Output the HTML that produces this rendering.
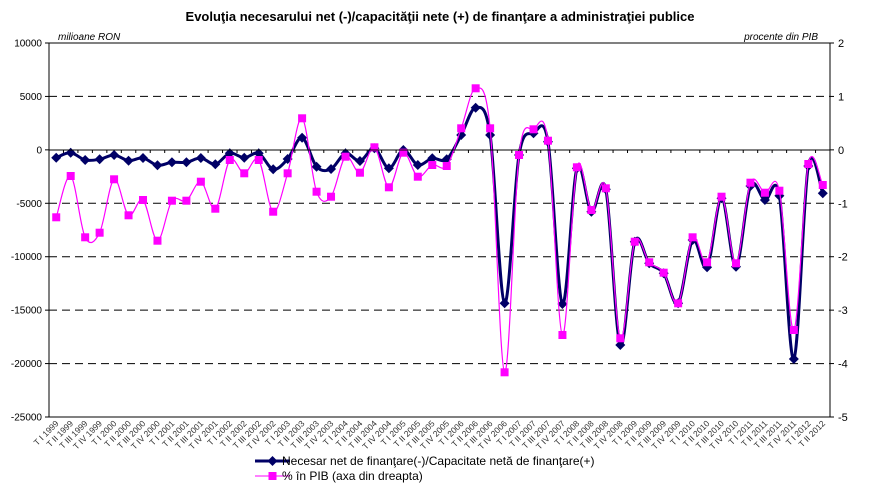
<!DOCTYPE html>
<html><head><meta charset="utf-8"><style>
html,body{margin:0;padding:0;background:#fff;width:881px;height:483px;overflow:hidden}
svg{display:block;font-family:"Liberation Sans",Arial,sans-serif}
</style></head><body>
<svg id="s" width="881" height="483" viewBox="0 0 881 483" xmlns="http://www.w3.org/2000/svg">
<text x="440" y="21" text-anchor="middle" font-size="13" font-weight="bold">Evoluţia necesarului net (-)/capacităţii nete (+) de finanţare a administraţiei publice</text>
<text x="58" y="40" font-size="10" font-style="italic">milioane RON</text>
<text x="818" y="40" font-size="10" font-style="italic" text-anchor="end">procente din PIB</text>
<g id="g"></g>
<line x1="49" y1="43" x2="830" y2="43" stroke="#000" stroke-width="1"/>
<line x1="49" y1="417" x2="830" y2="417" stroke="#000" stroke-width="1"/>
<line x1="49" y1="43" x2="49" y2="417" stroke="#000" stroke-width="1"/>
<line x1="830" y1="43" x2="830" y2="417" stroke="#000" stroke-width="1"/>
<line x1="49" y1="150" x2="830" y2="150" stroke="#000" stroke-width="1"/>
<line x1="255" y1="461" x2="290" y2="461" stroke="#000066" stroke-width="3"/>
<path d="M272.5 456 L277.5 461 L272.5 466 L267.5 461Z" fill="#000066"/>
<text x="282" y="465" font-size="12">Necesar net de finanţare(-)/Capacitate netă de finanţare(+)</text>
<line x1="255" y1="476" x2="290" y2="476" stroke="#ff00ff" stroke-width="1"/>
<rect x="268.5" y="472" width="8" height="8" fill="#ff00ff"/>
<text x="282" y="480" font-size="12">% în PIB (axa din dreapta)</text>
</svg>
<script>
var g=document.getElementById('g'),h='';
var L=49,R=830,T=43,B=417,st=(R-L)/54;
var lv=[10000,5000,0,-5000,-10000,-15000,-20000,-25000];
for(var i=0;i<8;i++){var y=T+i*(B-T)/7;
 if(i>0&&i<7&&i!=2)h+='<line x1="49" y1="'+y+'" x2="830" y2="'+y+'" stroke="#000" stroke-dasharray="8,5"/>';
 h+='<line x1="45" y1="'+y+'" x2="49" y2="'+y+'" stroke="#000"/><line x1="830" y1="'+y+'" x2="834" y2="'+y+'" stroke="#000"/>';
 h+='<text x="42" y="'+(y+3.5)+'" font-size="10" text-anchor="end">'+lv[i]+'</text>';
 h+='<text x="838" y="'+(y+4)+'" font-size="11">'+(2-i)+'</text>';}
var q=['I','II','III','IV'];
for(var i=0;i<=54;i++){var x=L+i*st;h+='<line x1="'+x+'" y1="150" x2="'+x+'" y2="153" stroke="#000"/>';}
for(var i=0;i<54;i++){var x=L+(i+0.5)*st;var lab='T '+q[i%4]+' '+(1999+Math.floor(i/4));
 h+='<text transform="translate('+(x+3)+',424) rotate(-45)" font-size="8.5" fill="#333" text-anchor="end">'+lab+'</text>';}
var nv=[157.7,152.7,160,159.3,155,160.7,158,165.3,162.3,162.3,158,164.3,153.3,157.7,153.3,169.3,159,137.7,166.7,169,153.3,161,148.3,168.3,150,165,158.3,159.3,135,107.7,135,303.3,155,133.3,141.7,304,168.3,211.7,189.3,345,241.7,263.3,273.3,303.3,240,267.3,198.3,266.7,186,200,195.7,359,166,193.3];
var pk=[217.3,176,237.3,232.7,179.3,215.3,200,240.7,200.7,200.7,181.7,208.7,160,173.3,160,211.7,173.3,118.3,191.7,196.7,156.7,172.7,147.3,187.3,152.7,176.7,165,166,128.3,88.3,128.3,372.3,155,129.3,140.7,335,167.3,210,188.3,338.3,241.7,262.3,272.7,303.3,237.3,262.3,196.7,263.3,182.7,192.7,190.7,330,164,185];
function path(v){var p=[];for(var i=0;i<v.length;i++)p.push([L+(i+0.5)*st,v[i]]);
 var d='M'+p[0][0]+' '+p[0][1];
 for(var i=0;i<p.length-1;i++){var p0=p[Math.max(0,i-1)],p1=p[i],p2=p[i+1],p3=p[Math.min(p.length-1,i+2)];var k=6;
  d+=' C'+(p1[0]+(p2[0]-p0[0])/k)+' '+(p1[1]+(p2[1]-p0[1])/k)+' '+(p2[0]-(p3[0]-p1[0])/k)+' '+(p2[1]-(p3[1]-p1[1])/k)+' '+p2[0]+' '+p2[1];}
 return [d,p];}
var a=path(nv),b=path(pk);
h+='<path d="'+a[0]+'" fill="none" stroke="#000066" stroke-width="3"/>';
a[1].forEach(function(p){h+='<path d="M'+p[0]+' '+(p[1]-5)+' L'+(p[0]+5)+' '+p[1]+' L'+p[0]+' '+(p[1]+5)+' L'+(p[0]-5)+' '+p[1]+'Z" fill="#000066"/>';});
h+='<path d="'+b[0]+'" fill="none" stroke="#ff00ff" stroke-width="1.2"/>';
b[1].forEach(function(p){h+='<rect x="'+(p[0]-4)+'" y="'+(p[1]-4)+'" width="8" height="8" fill="#ff00ff"/>';});
g.innerHTML=h;
</script>
</body></html>
